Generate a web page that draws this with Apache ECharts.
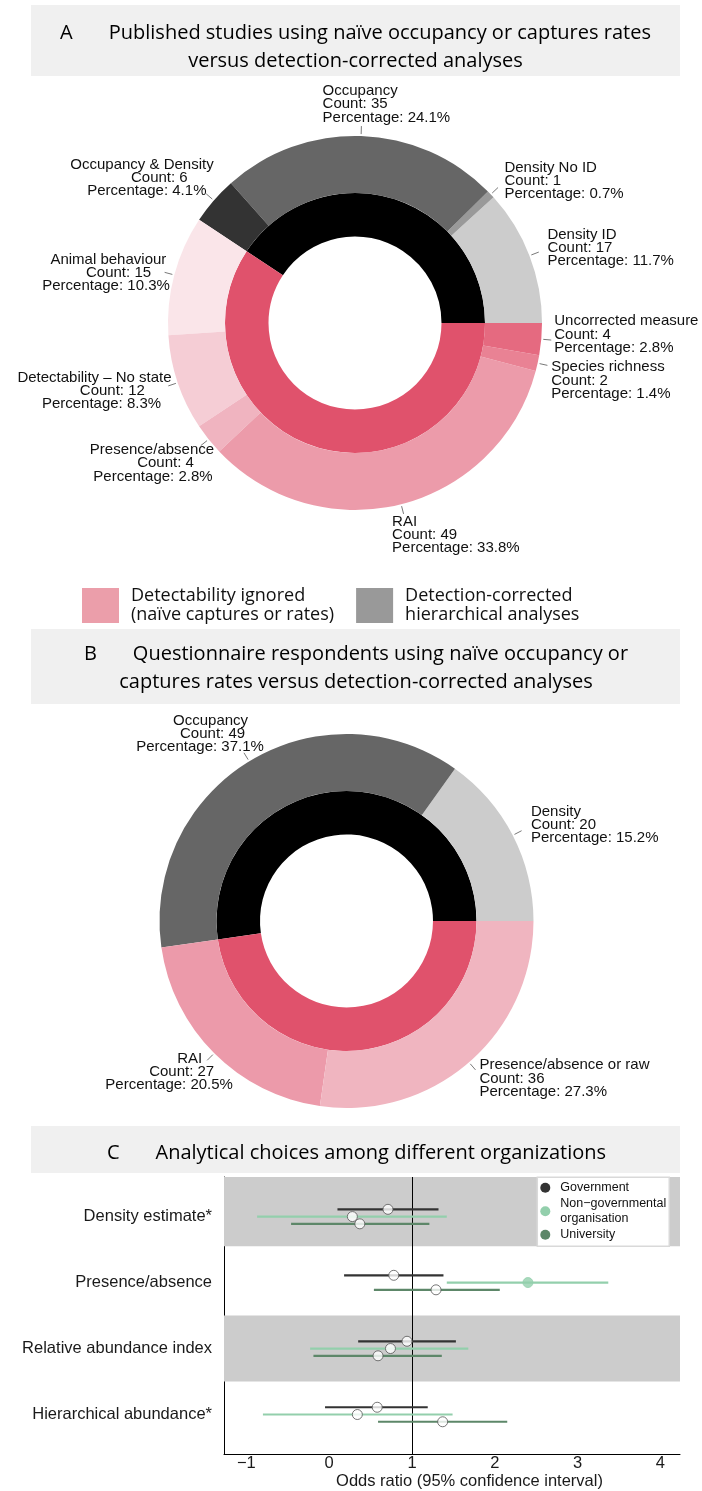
<!DOCTYPE html>
<html>
<head>
<meta charset="utf-8">
<script src="https://cdn.jsdelivr.net/npm/echarts@6/dist/echarts.min.js"></script>
<style>
  html, body { margin: 0; padding: 0; background: #fff; }
  #chart { width: 702px; height: 1491px; }
</style>
</head>
<body>
<div id="chart"></div>
<script>
  // ---- A: published studies (counts per analysis type) ----
  var studyNames = ['Density ID', 'Density No ID', 'Occupancy', 'Occupancy & Density',
    'Animal behaviour', 'Detectability – No state', 'Presence/absence', 'RAI',
    'Species richness', 'Uncorrected measure'];
  var studyCounts = [17, 1, 35, 6, 15, 12, 4, 49, 2, 4];
  var studyGroup = [0, 0, 0, 0, 1, 1, 1, 1, 1, 1];

  // ---- B: questionnaire respondents ----
  var respNames = ['Density', 'Occupancy', 'RAI', 'Presence/absence or raw'];
  var respCounts = [20, 49, 27, 36];
  var respGroup = [0, 0, 1, 1];

  var groupNames = ['Detection-corrected', 'Detectability ignored'];

  // ---- C: odds ratios by organisation ----
  var methods = ['Density estimate*', 'Presence/absence', 'Relative abundance index', 'Hierarchical abundance*'];
  var orgs = ['Government', 'Non−governmental organisation', 'University'];
  var govEst = [0.71, 0.78, 0.94, 0.58];
  var govLo = [0.10, 0.18, 0.35, -0.05];
  var govHi = [1.32, 1.38, 1.53, 1.19];
  var ngoEst = [0.28, 2.40, 0.74, 0.34];
  var ngoLo = [-0.87, 1.42, -0.23, -0.80];
  var ngoHi = [1.42, 3.37, 1.68, 1.49];
  var uniEst = [0.37, 1.29, 0.59, 1.37];
  var uniLo = [-0.46, 0.54, -0.19, 0.59];
  var uniHi = [1.21, 2.06, 1.36, 2.15];
  var ngoSignificant = [false, true, false, false];
  var xTicks = [-1, 0, 1, 2, 3, 4];

  // ---- styles / layout ----
  var studyColors = ['#cccccc', '#999999', '#666666', '#333333',
    '#fae5e9', '#f5cdd5', '#f0b4c0', '#ec9baa', '#e98294', '#e56a80'];
  var respColors = ['#cccccc', '#666666', '#ec9aaa', '#f0b5c0'];
  var groupColors = ['#000000', '#e0526c'];
  var orgColors = ['#333333', '#93cfac', '#5d8769'];
  var orgOffset = [0.11, 0, -0.11];
  var R_IN = 86.5, R_MID = 130, R_OUT = 187;
  var centerA = [355, 323], centerB = [346.5, 921];
  var nudgeA = [[3, -2], [2, -2.5], [-39, -16], [12, -12], [11, 2], [9, 3], [18, 14], [-13, 15], [-2, 14], [-3, -6]];
  var nudgeB = [[4, -3], [23, -14], [30, 7.5], [0, 4]];

  var LABEL_FONT = 'Liberation Sans';
  var TITLE_FONT = 'Open Sans';
  var ctx = document.createElement('canvas').getContext('2d');
  ctx.font = '15px "' + LABEL_FONT + '"';

  function sumGroups(counts, group) {
    var s = [0, 0];
    counts.forEach(function (c, i) { s[group[i]] += c; });
    return s;
  }

  function midAngles(counts) {
    var total = counts.reduce(function (a, b) { return a + b; }, 0);
    var cum = 0;
    return counts.map(function (c) {
      var m = (cum + c / 2) / total * 360;
      cum += c;
      return m;
    });
  }

  // outer ring: label text + rich styles (left-side blocks use hjust ~0.7 per line)
  function outerRing(key, names, counts, colors, center, nudge) {
    var total = counts.reduce(function (a, b) { return a + b; }, 0);
    var mids = midAngles(counts);
    var rich = {};
    var texts = names.map(function (n, i) {
      var lines = [n, 'Count: ' + counts[i], 'Percentage: ' + (counts[i] / total * 100).toFixed(1) + '%'];
      var w = lines.map(function (l) { return ctx.measureText(l).width; });
      var W = Math.max.apply(null, w);
      var right = Math.cos(mids[i] * Math.PI / 180) < 0;
      return lines.map(function (l, k) {
        var s = key + i + '_' + k;
        rich[s] = {
          fontFamily: LABEL_FONT, fontSize: 15, lineHeight: 13.3, color: '#111',
          align: right ? 'right' : 'left',
          padding: right ? [0, 0.3 * (W - w[k]), 0, 0] : 0
        };
        return '{' + s + '|' + l + '}';
      }).join('\n');
    });
    return {
      type: 'pie', center: center, radius: [R_MID, R_OUT],
      startAngle: 0, clockwise: false, silent: true, avoidLabelOverlap: false,
      itemStyle: { borderWidth: 0 },
      label: {
        show: true, position: 'outside', rich: rich,
        formatter: function (p) { return texts[p.dataIndex]; }
      },
      labelLine: { show: true, length: 5, length2: 0, lineStyle: { color: '#555', width: 0.8 } },
      labelLayout: function (p) {
        var a = mids[p.dataIndex] * Math.PI / 180;
        var c = Math.cos(a), s = Math.sin(a);
        var nd = nudge[p.dataIndex];
        var rl = R_OUT + 16;
        return {
          x: center[0] + rl * c + nd[0],
          y: center[1] - rl * s + nd[1],
          align: c < 0 ? 'right' : 'left',
          verticalAlign: 'middle',
          labelLinePoints: [
            [center[0] + (R_OUT + 2) * c, center[1] - (R_OUT + 2) * s],
            [center[0] + (R_OUT + 10) * c, center[1] - (R_OUT + 10) * s],
            [center[0] + (R_OUT + 10) * c, center[1] - (R_OUT + 10) * s]
          ]
        };
      },
      data: names.map(function (n, i) {
        return { name: n, value: counts[i], itemStyle: { color: colors[i] } };
      })
    };
  }

  function innerRing(counts, group, center) {
    var g = sumGroups(counts, group);
    return {
      type: 'pie', center: center, radius: [R_IN, R_MID],
      startAngle: 0, clockwise: false, silent: true,
      itemStyle: { borderWidth: 0 },
      label: { show: false }, labelLine: { show: false },
      data: groupNames.map(function (n, i) {
        return { name: n, value: g[i], itemStyle: { color: groupColors[i] } };
      })
    };
  }

  var est = [govEst, ngoEst, uniEst];
  var lo = [govLo, ngoLo, uniLo];
  var hi = [govHi, ngoHi, uniHi];
  var sig = [[false, false, false, false], ngoSignificant, [false, false, false, false]];

  var series = [
    innerRing(studyCounts, studyGroup, centerA),
    outerRing('a', studyNames, studyCounts, studyColors, centerA, nudgeA),
    innerRing(respCounts, respGroup, centerB),
    outerRing('b', respNames, respCounts, respColors, centerB, nudgeB),
    {
      type: 'line', data: [], silent: true,
      markArea: {
        silent: true, z: 1, itemStyle: { color: '#cccccc' },
        data: [[{ yAxis: 3.55 }, { yAxis: 4.6 }], [{ yAxis: 1.5 }, { yAxis: 2.5 }]]
      },
      markLine: {
        silent: true, z: 2, symbol: 'none', label: { show: false },
        lineStyle: { color: '#000', width: 1, type: 'solid' },
        data: [{ xAxis: 1 }]
      }
    }
  ];

  orgs.forEach(function (org, k) {
    series.push({
      type: 'custom', name: org, z: 3, silent: true,
      encode: { x: [0, 1], y: 2 },
      data: methods.map(function (m, i) { return [lo[k][i], hi[k][i], 4 - i + orgOffset[k]]; }),
      renderItem: function (params, api) {
        var a = api.coord([api.value(0), api.value(2)]);
        var b = api.coord([api.value(1), api.value(2)]);
        return {
          type: 'line',
          shape: { x1: a[0], y1: a[1], x2: b[0], y2: b[1] },
          style: { stroke: orgColors[k], lineWidth: 2.2 }
        };
      }
    });
    series.push({
      type: 'scatter', name: org, z: 4, silent: true, symbolSize: 10,
      data: methods.map(function (m, i) {
        return {
          value: [est[k][i], 4 - i + orgOffset[k]],
          itemStyle: sig[k][i]
            ? { color: orgColors[k], borderColor: orgColors[k], borderWidth: 1 }
            : { color: '#ffffff', borderColor: '#555555', borderWidth: 1 }
        };
      })
    });
  });

  var titleRich = {
    l: { fontFamily: TITLE_FONT, fontSize: 20, lineHeight: 28, color: '#111', padding: [0, 36, 0, 0] },
    t: { fontFamily: TITLE_FONT, fontSize: 20, lineHeight: 28, color: '#111' }
  };

  function titleBox(y, h) {
    return { type: 'rect', z: -10, silent: true, shape: { x: 31, y: y, width: 649, height: h }, style: { fill: '#f0f0f0' } };
  }
  function titleText(x, y, letter, lines) {
    var txt = '{l|' + letter + '}{t|' + lines[0] + '}';
    for (var i = 1; i < lines.length; i++) txt += '\n{t|' + lines[i] + '}';
    return { type: 'text', z: 10, silent: true, x: x, y: y,
      style: { text: txt, align: 'center', verticalAlign: 'top', rich: titleRich } };
  }

  var chart = echarts.init(document.getElementById('chart'));
  chart.setOption({
    animation: false,
    backgroundColor: '#ffffff',
    graphic: [
      titleBox(5, 71),
      titleBox(629, 75),
      titleBox(1126, 47),
      titleText(355.5, 19, 'A', ['Published studies using naïve occupancy or captures rates', 'versus detection-corrected analyses']),
      titleText(356, 640, 'B', ['Questionnaire respondents using naïve occupancy or', 'captures rates versus detection-corrected analyses']),
      titleText(356.5, 1139, 'C', ['Analytical choices among different organizations'])
    ],
    legend: [
      {
        left: 82, top: 587, orient: 'horizontal', itemGap: 22, itemWidth: 37, itemHeight: 35,
        icon: 'rect', selectedMode: false, padding: 0,
        data: [
          { name: 'Detectability ignored', itemStyle: { color: '#eb9eaa' } },
          { name: 'Detection-corrected', itemStyle: { color: '#999999' } }
        ],
        formatter: function (n) {
          return n === 'Detectability ignored'
            ? '{t|Detectability ignored}\n{t|(naïve captures or rates)}'
            : '{t|Detection-corrected}\n{t|hierarchical analyses}';
        },
        textStyle: { rich: { t: { fontFamily: TITLE_FONT, fontSize: 18, lineHeight: 19, color: '#111', padding: [0, 0, 0, 7] } } }
      },
      {
        left: 537.3, top: 1177.3, orient: 'vertical', itemGap: 1, itemWidth: 20, itemHeight: 10,
        icon: 'circle', selectedMode: false, padding: [3, 3, 4, 3],
        backgroundColor: '#ffffff', borderColor: '#d9d9d9', borderWidth: 1.5,
        data: orgs.map(function (o, k) { return { name: o, itemStyle: { color: orgColors[k] } }; }),
        formatter: function (n) { return n.replace(' organisation', '\norganisation'); },
        textStyle: { fontFamily: LABEL_FONT, fontSize: 12.5, lineHeight: 15, color: '#111' }
      }
    ],
    grid: { left: 224, right: 22, top: 1177, bottom: 34, containLabel: false },
    xAxis: {
      type: 'value', min: -1.27, max: 4.236,
      axisLine: { show: true, onZero: false, lineStyle: { color: '#000', width: 1 } },
      axisTick: { show: false },
      splitLine: { show: false },
      axisLabel: {
        customValues: xTicks, margin: 1, color: '#1a1a1a',
        fontFamily: LABEL_FONT, fontSize: 16.5,
        formatter: function (v) { return String(v).replace('-', '−'); }
      },
      name: 'Odds ratio (95% confidence interval)', nameLocation: 'middle', nameGap: 16,
      nameTextStyle: { fontFamily: LABEL_FONT, fontSize: 16.5, color: '#1a1a1a', padding: [0, 0, 0, 35] }
    },
    yAxis: {
      type: 'value', min: 0.4, max: 4.6,
      axisLine: { show: true, onZero: false, lineStyle: { color: '#000', width: 1 } },
      axisTick: { show: false },
      splitLine: { show: false },
      axisLabel: {
        customValues: [1, 2, 3, 4], margin: 12, color: '#1a1a1a',
        fontFamily: LABEL_FONT, fontSize: 16.5,
        formatter: function (v) { return methods[4 - v]; }
      }
    },
    series: series
  });
</script>
</body>
</html>
